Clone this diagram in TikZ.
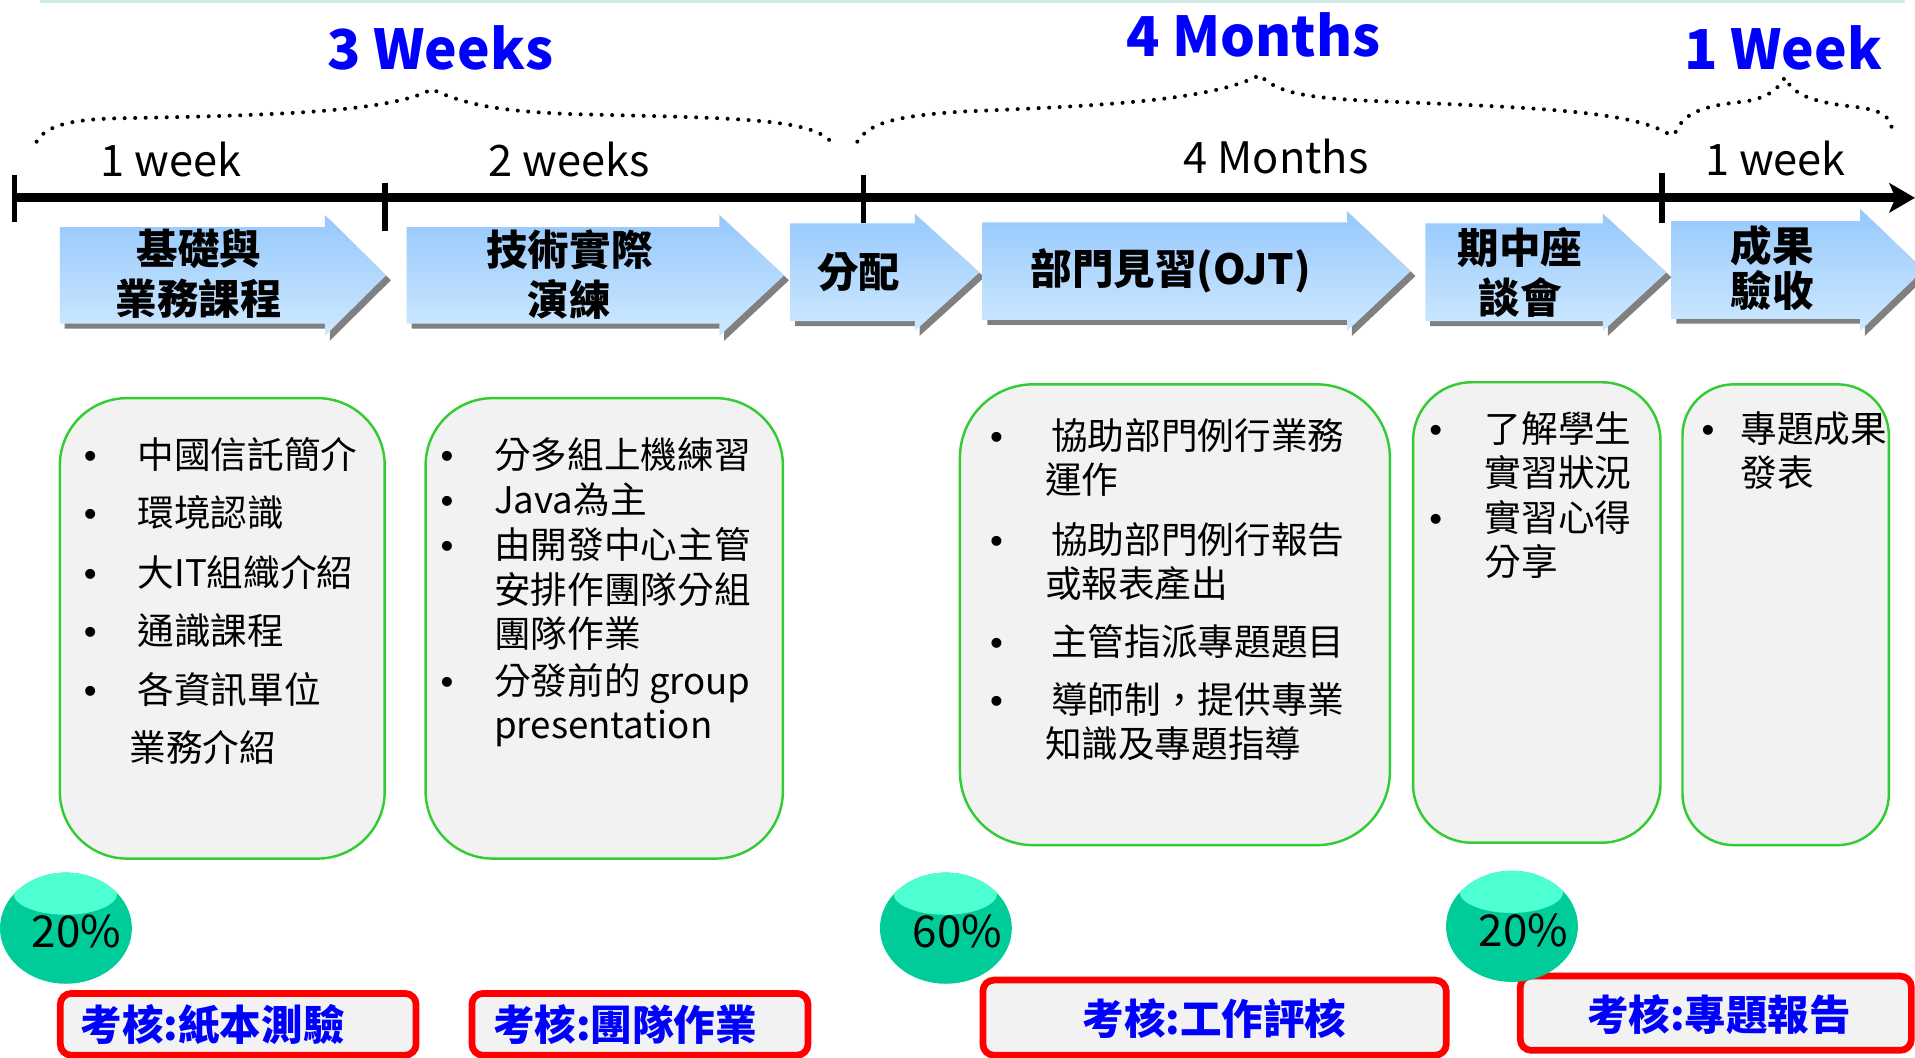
\documentclass[tikz,border=0pt]{standalone}
\usepackage{fontspec}
\setmainfont{Noto Sans CJK TC}
\newfontfamily\dotfont{Liberation Sans}
\usetikzlibrary{arrows.meta}

\definecolor{phasetop}{RGB}{150,200,252}
\definecolor{phasebot}{RGB}{206,233,255}
\definecolor{phaseshadow}{RGB}{128,128,128}
\definecolor{boxline}{RGB}{51,204,51}
\definecolor{boxfill}{RGB}{242,242,242}
\definecolor{bubble}{RGB}{0,204,153}
\definecolor{bubblehi}{RGB}{77,255,209}
\definecolor{examred}{RGB}{255,0,0}
\definecolor{spanblue}{RGB}{0,0,255}
\definecolor{topline}{RGB}{208,236,232}

\begin{document}
\begin{tikzpicture}[x=1pt,y=-1pt,
		span/.style={inner sep=0, text=spanblue, font=\bfseries\fontsize{45}{54}\selectfont},
		unit/.style={inner sep=0, font=\fontsize{35.5}{42}\selectfont},
		tick/.style={line width=4.6pt},
		brace/.style={line width=3.3pt, line cap=round, dash pattern=on 0pt off 8.6pt},
		phase/.style={top color=phasetop, bottom color=phasebot},
		phasetext/.style={inner sep=0, align=center, font=\bfseries\fontsize{34}{41}\selectfont},
		task/.style={draw=boxline, line width=2pt, fill=boxfill},
		item/.style={inner sep=0, font=\fontsize{30}{36}\selectfont, text height=26.4pt, text depth=3.6pt},
		bullet/.style={item, font=\dotfont\fontsize{30}{36}\selectfont},
		share/.style={inner sep=0, font=\fontsize{36}{43}\selectfont},
		exam/.style={draw=examred, line width=5.5pt, fill=boxfill, rounded corners=9},
		examtext/.style={inner sep=0, text=spanblue, font=\bfseries\fontsize{34}{40}\selectfont, text height=29.9pt, text depth=4.1pt}]
			\clip (0,0) rectangle (1568,866);
			\fill[white] (0,0) rectangle (1568,866);
			\fill[topline] (33,0) rectangle (1560,2.6);
			
			\node[span] (wk3) at (360.5,39) {3 Weeks};
			\node[span] (mo4) at (1026.4,28.7) {4 Months};
			\node[span] (wk1) at (1460,39) {1 Week};
			
			\draw[brace] (30,116) .. controls (38,102) and (60,97.5) .. (100,96.8) .. controls (220,94.5) and (320,92) .. (353.5,73) .. controls (385,88) and (420,91.5) .. (470,93.5) .. controls (600,96.5) and (660,97) .. (679,114.6);
			\draw[brace] (702,116) .. controls (712,100) and (735,95) .. (787,91.4) .. controls (900,86.5) and (990,83) .. (1031.7,61.4) .. controls (1045,76) and (1070,80) .. (1120,82.5) .. controls (1250,88) and (1345,90) .. (1371,113.3);
			\draw[brace] (1372,108) .. controls (1380,90) and (1400,86) .. (1430,83) .. controls (1445,80) and (1455,75) .. (1461.4,63.3) .. controls (1468,78) and (1485,83) .. (1510,86.5) .. controls (1535,89) and (1547,92) .. (1549,105);
			
			\node[unit] (u1) at (140,130.3) {1 week};
			\node[unit] (u2) at (466,130.3) {2 weeks};
			\node[unit] (u3) at (1045,128.3) {4 Months};
			\node[unit] (u4) at (1453.8,130) {1 week};
			
			\coordinate (tl0) at (12,162);
			\coordinate (tl1) at (1568,162);
			\draw[line width=7.3pt, -{Stealth[length=21pt, width=24pt, inset=5pt]}] (tl0) -- (tl1);
			\draw[tick] (12,143) -- (12,182);
			\draw[tick] (315,150) -- (315,189);
			\draw[tick] (707,143) -- (707,183);
			\draw[tick] (1361,142) -- (1361,183);
			
			\foreach \xl/\xr/\xt/\yt/\yb/\yh in {49/266/316/186/265/176, 333/589/642/186/265/176, 647/749/802/183/263/175, 804.5/1103/1155/182/262/173, 1167/1312.5/1364.5/183/263/175, 1368.6/1523/1575/181/261/171}{
				\pgfmathsetmacro\ym{(\yt+\yb)/2}
				\pgfmathsetmacro\yf{\yt+\yb-\yh}
				\fill[phaseshadow, shift={(4,4)}] (\xl,\yt) -- (\xr,\yt) -- (\xr,\yh) -- (\xt,\ym) -- (\xr,\yf) -- (\xr,\yb) -- (\xl,\yb) -- cycle;
				\path[phase] (\xl,\yt) -- (\xr,\yt) -- (\xr,\yh) -- (\xt,\ym) -- (\xr,\yf) -- (\xr,\yb) -- (\xl,\yb) -- cycle;
			}
			\node[phasetext] (ph1) at (162.8,224.5) {基礎與\\業務課程};
			\node[phasetext] (ph2) at (466.3,224.5) {技術實際\\演練};
			\node[phasetext] (ph3) at (703,223) {分配};
			\node[phasetext] (ph4) at (958.6,222) {部門見習(OJT)};
			\node[phasetext] (ph5) at (1244.6,223.4) {期中座\\談會};
			\node[phasetext] (ph6) at (1451,219.5) {成果\\[-4pt]驗收};
			
			\draw[task, rounded corners=55] (49,326) rectangle (315,703);
			\draw[task, rounded corners=55] (348.5,326) rectangle (641,703);
			\draw[task, rounded corners=60] (786,314.7) rectangle (1138,692);
			\draw[task, rounded corners=48] (1157,313) rectangle (1359.6,690);
			\draw[task, rounded corners=42] (1377.6,314.7) rectangle (1546.6,692);
			
			\foreach \n/\y in {1/372, 2/420, 3/468.5, 4/516.4, 5/565}
				\node[bullet] (dotA\n) at (74,\y) {•};
			\foreach \n/\x/\y/\t in {1/112.5/372/中國信託簡介, 2/112.5/420/環境認識, 3/112.5/468.5/大IT組織介紹, 4/112.5/516.4/通識課程, 5/112.5/565/各資訊單位, 6/106/611.8/業務介紹}
				\node[item, anchor=west] (intro\n) at (\x,\y) {\t};
			
			\foreach \n/\y in {1/372, 2/409, 3/445.7, 4/557.3}
				\node[bullet] (dotB\n) at (366,\y) {•};
			\foreach \n/\y/\t in {1/372/分多組上機練習, 2/409/Java為主, 3/445.7/由開發中心主管, 4/482.5/安排作團隊分組, 5/519/團隊作業, 6/557.3/分發前的 group, 7/593.6/presentation}
				\node[item, anchor=west] (drill\n) at (404.5,\y) {\t};
			
			\foreach \n/\y in {1/357, 2/441.6, 3/525.4, 4/572.6}
				\node[bullet] (dotC\n) at (816,\y) {•};
			\foreach \n/\x/\y/\t in {1/860.5/357/協助部門例行業務, 2/855.5/393/運作, 3/860.5/441.6/協助部門例行報告, 4/855.5/478/或報表產出, 5/860.5/525.4/主管指派專題題目, 6/860.5/572.6/導師制，提供專業, 7/855.5/609.2/知識及專題指導}
				\node[item, anchor=west] (ojt\n) at (\x,\y) {\t};
			
			\foreach \n/\y in {1/350.7, 2/423.6}
				\node[bullet] (dotD\n) at (1175.6,\y) {•};
			\foreach \n/\y/\t in {1/350.7/了解學生, 2/387/實習狀況, 3/423.6/實習心得, 4/460/分享}
				\node[item, anchor=west] (talk\n) at (1215.5,\y) {\t};
			
			\node[bullet] (dotE1) at (1398.6,350.7) {•};
			\node[item, anchor=west] (demo1) at (1425,350.7) {專題成果};
			\node[item, anchor=west] (demo2) at (1425,387) {發表};
			
			\draw[exam] (49.4,813.4) rectangle (340.7,864);
			\draw[exam] (386.4,813.4) rectangle (661.6,864);
			\draw[exam] (804.8,802.5) rectangle (1184.2,864);
			\draw[exam] (1244.8,799.2) rectangle (1565,860);
			\node[examtext, anchor=west] (ex1) at (66,839) {考核:紙本測驗};
			\node[examtext, anchor=west] (ex2) at (403.5,839) {考核:團隊作業};
			\node[examtext] (ex3) at (994.5,834.5) {考核:工作評核};
			\node[examtext] (ex4) at (1407.5,831) {考核:專題報告};
			
			\foreach \cx/\cy in {54/760, 774.5/760, 1238/758.5}{
				\fill[bubble] (\cx,\cy) ellipse [x radius=54, y radius=45.5];
				\begin{scope}
					\clip (\cx,\cy) ellipse [x radius=54, y radius=45.5];
					\fill[bubblehi] (\cx-0.5,\cy-28.5) ellipse [x radius=42.5, y radius=17.5];
				\end{scope}
			}
			\node[share] (pc1) at (62.7,762.8) {20\%};
			\node[share] (pc2) at (784,762.8) {60\%};
			\node[share] (pc3) at (1247.5,762) {20\%};
		\end{tikzpicture}
\end{document}
